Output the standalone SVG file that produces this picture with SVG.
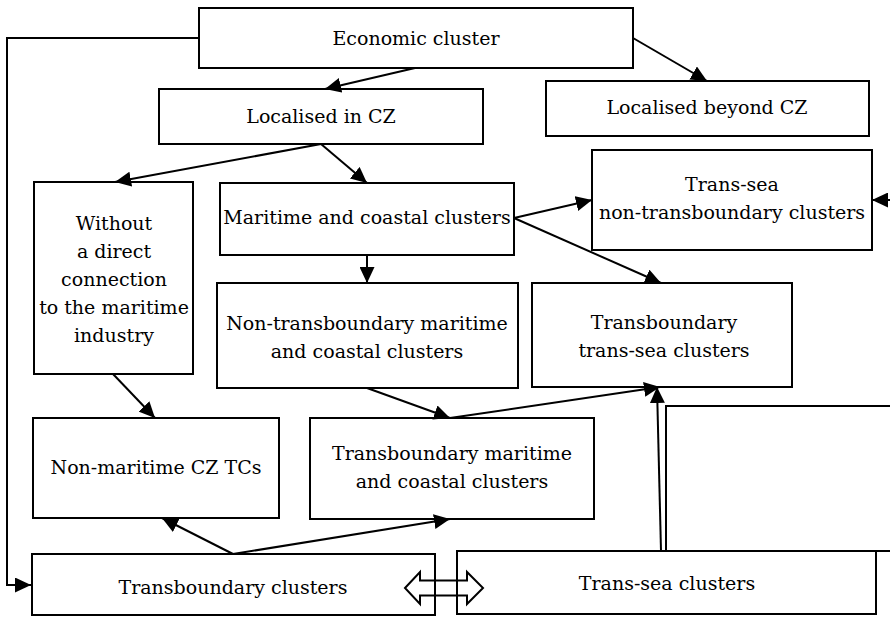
<svg xmlns="http://www.w3.org/2000/svg" width="890" height="617" viewBox="0 0 890 617">
<style>
.box{fill:none;stroke:#000;stroke-width:2}
.ln{fill:none;stroke:#000;stroke-width:2;marker-end:url(#ah)}
.t{font-family:"DejaVu Serif","Liberation Serif",serif;font-size:19px;fill:#000;text-anchor:middle}
</style>
<defs>
<marker id="ah" markerUnits="userSpaceOnUse" markerWidth="17" markerHeight="15" refX="16" refY="7.5" orient="auto">
<path d="M0,0 L16,7.5 L0,15 z" fill="#000"/>
</marker>
</defs>
<rect width="890" height="617" fill="#fff"/>
<g id="double-arrow">
<path d="M405,588 L420,572 L420,580.5 L467,580.5 L467,572 L483,588 L467,604 L467,595.5 L420,595.5 L420,604 z" fill="#fff" stroke="#000" stroke-width="2"/>
</g>
<g id="connectors">
<polyline class="ln" points="199,38 7,38 7,585 31,585"/>
<line class="ln" x1="415" y1="68" x2="325" y2="89"/>
<line class="ln" x1="633" y1="38" x2="707" y2="81"/>
<line class="ln" x1="321" y1="144" x2="115" y2="182"/>
<line class="ln" x1="321" y1="144" x2="367" y2="183"/>
<line class="ln" x1="367" y1="255" x2="367" y2="283"/>
<line class="ln" x1="514" y1="218" x2="592" y2="200"/>
<line class="ln" x1="514" y1="218" x2="661" y2="283"/>
<line class="ln" x1="895" y1="200" x2="872" y2="200"/>
<line class="ln" x1="113" y1="374" x2="155" y2="418"/>
<line class="ln" x1="367" y1="388" x2="450" y2="418"/>
<line class="ln" x1="450" y1="418" x2="660" y2="387"/>
<line class="ln" x1="233" y1="554" x2="162" y2="518"/>
<line class="ln" x1="233" y1="554" x2="450" y2="519"/>
<line class="ln" x1="661" y1="551" x2="657" y2="387"/>
</g>
<g id="economic-cluster"><rect class="box" x="199" y="8" width="434" height="60"/><text class="t" x="416" y="45">Economic cluster</text></g>
<g id="localised-cz"><rect class="box" x="159" y="89" width="324" height="55"/><text class="t" x="321" y="123">Localised in CZ</text></g>
<g id="localised-beyond"><rect class="box" x="546" y="81" width="323" height="55"/><text class="t" x="707" y="114">Localised beyond CZ</text></g>
<g id="trans-sea-non-tb"><rect class="box" x="592" y="150" width="280" height="100"/><text class="t" x="732" y="191">Trans-sea</text><text class="t" x="732" y="219">non-transboundary clusters</text></g>
<g id="without"><rect class="box" x="34" y="182" width="159" height="192"/><text class="t" x="114" y="230">Without</text><text class="t" x="114" y="258">a direct</text><text class="t" x="114" y="286">connection</text><text class="t" x="114" y="314">to the maritime</text><text class="t" x="114" y="342">industry</text></g>
<g id="maritime-coastal"><rect class="box" x="220" y="183" width="294" height="72"/><text class="t" x="367" y="224">Maritime and coastal clusters</text></g>
<g id="non-tb-maritime"><rect class="box" x="217" y="283" width="301" height="105"/><text class="t" x="367" y="330">Non-transboundary maritime</text><text class="t" x="367" y="358">and coastal clusters</text></g>
<g id="tb-trans-sea"><rect class="box" x="532" y="283" width="260" height="104"/><text class="t" x="664" y="329">Transboundary</text><text class="t" x="664" y="357">trans-sea clusters</text></g>
<g id="empty-box"><rect class="box" x="666" y="406" width="300" height="145"/></g>
<g id="non-maritime-cz"><rect class="box" x="33" y="418" width="246" height="100"/><text class="t" x="156" y="474">Non-maritime CZ TCs</text></g>
<g id="tb-maritime"><rect class="box" x="310" y="418" width="284" height="101"/><text class="t" x="452" y="460">Transboundary maritime</text><text class="t" x="452" y="488">and coastal clusters</text></g>
<g id="tb-clusters"><rect class="box" x="32" y="554" width="403" height="61"/><text class="t" x="233" y="594">Transboundary clusters</text></g>
<g id="trans-sea-clusters"><rect class="box" x="457" y="551" width="419" height="63"/><text class="t" x="667" y="590">Trans-sea clusters</text></g>
</svg>
